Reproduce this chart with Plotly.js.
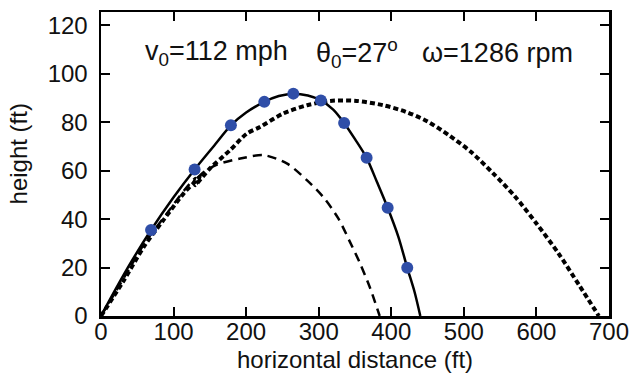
<!DOCTYPE html>
<html>
<head>
<meta charset="utf-8">
<script src="https://cdn.plot.ly/plotly-3.0.1.min.js"></script>
<style>
html,body{margin:0;padding:0;background:#fff;}
#chart{width:631px;height:373px;}
</style>
</head>
<body>
<div id="chart"></div>
<script>
// Measured data points (blue dots)
const dotX = [69, 129, 179, 225, 265, 303, 335, 366, 395, 422];
const dotY = [35.5, 60.5, 78.7, 88.4, 91.8, 89, 79.7, 65.3, 44.7, 19.9];

// Solid trajectory
const solidX = [0, 20, 40, 69, 100, 129, 155, 179, 200, 225, 245, 265, 285, 303, 320, 335, 350, 366, 380, 395, 410, 422, 432, 440];
const solidY = [0, 11, 21.5, 35.5, 49, 60.5, 70, 78.7, 84, 88.4, 90.8, 91.8, 91, 89, 85.2, 79.7, 73, 65.3, 55.5, 44.7, 32.5, 19.9, 10, 0];

// Long-dashed trajectory
const dashX = [0, 30, 60, 90, 115, 130, 127, 140, 160, 192, 224, 256, 284, 306, 327, 343, 357, 371, 384];
const dashY = [0, 15, 30, 42, 52, 57, 55, 59, 62.5, 65, 66.4, 63, 56, 49.2, 40.3, 30.6, 21.7, 11.4, 0];

// Short-dashed (dotted) trajectory
const dotLineX = [0, 30, 60, 86, 115, 128, 136, 130, 150, 178, 201, 219, 251, 284, 316, 352, 389, 420, 450, 480, 510, 540, 570, 600, 630, 660, 686];
const dotLineY = [0, 14, 29, 39.6, 51, 55, 57.5, 54, 60.9, 68.5, 75.3, 78, 83.6, 87, 88.8, 88.8, 87, 84.3, 80.3, 74.5, 67.7, 59, 49.5, 38.2, 26, 12.2, 0];

const xTicks = [0, 100, 200, 300, 400, 500, 600, 700];
const yTicks = [0, 20, 40, 60, 80, 100, 120];

const traces = [
  {x: dotLineX, y: dotLineY, mode: 'lines', line: {color: '#000', width: 4, dash: '5px,3px', shape: 'spline', smoothing: 0.8}, hoverinfo: 'skip'},
  {x: dashX, y: dashY, mode: 'lines', line: {color: '#000', width: 2.5, dash: '9px,6px', shape: 'spline', smoothing: 0.8}, hoverinfo: 'skip'},
  {x: solidX, y: solidY, mode: 'lines', line: {color: '#000', width: 2.5, shape: 'spline', smoothing: 0.8}, hoverinfo: 'skip'},
  {x: dotX, y: dotY, mode: 'markers', marker: {color: '#2f4ea8', size: 12}, hoverinfo: 'skip'}
];

const fontFam = 'Liberation Sans, Arial, sans-serif';
const axisCommon = {
  showline: true, linecolor: '#000', linewidth: 2.5, mirror: 'ticks',
  ticks: 'inside', ticklen: 9, tickwidth: 2, tickcolor: '#000',
  showgrid: false, zeroline: false,
  tickfont: {family: fontFam, size: 24, color: '#111'}
};

const layout = {
  width: 631, height: 373,
  margin: {l: 101, r: 22, t: 12, b: 57},
  paper_bgcolor: '#fff', plot_bgcolor: '#fff',
  showlegend: false,
  xaxis: Object.assign({}, axisCommon, {range: [0, 700], tickvals: xTicks, ticktext: xTicks.map(String), ticklabelstandoff: -7}),
  yaxis: Object.assign({}, axisCommon, {range: [0, 125.5], tickvals: yTicks, ticktext: yTicks.map(String), ticklabelstandoff: 6}),
  annotations: [
    {xref: 'paper', yref: 'paper', x: 0.5, y: -0.143, xanchor: 'center', yanchor: 'middle', showarrow: false,
     text: 'horizontal distance (ft)', font: {family: fontFam, size: 24, color: '#111'}},
    {xref: 'paper', yref: 'paper', x: -0.163, y: 0.532, xanchor: 'center', yanchor: 'middle', showarrow: false, textangle: -90,
     text: 'height (ft)', font: {family: fontFam, size: 24, color: '#111'}},
    {xref: 'paper', yref: 'paper', x: 0.083, y: 0.864, xanchor: 'left', yanchor: 'middle', showarrow: false,
     text: 'v<sub>0</sub>=112 mph', font: {family: fontFam, size: 27, color: '#111'}},
    {xref: 'paper', yref: 'paper', x: 0.42, y: 0.864, xanchor: 'left', yanchor: 'middle', showarrow: false,
     text: 'θ<sub>0</sub>=27<sup>o</sup>', font: {family: fontFam, size: 27, color: '#111'}},
    {xref: 'paper', yref: 'paper', x: 0.628, y: 0.864, xanchor: 'left', yanchor: 'middle', showarrow: false,
     text: 'ω=1286 rpm', font: {family: fontFam, size: 27, color: '#111'}}
  ]
};

Plotly.newPlot('chart', traces, layout, {staticPlot: true, displayModeBar: false});
</script>
</body>
</html>
